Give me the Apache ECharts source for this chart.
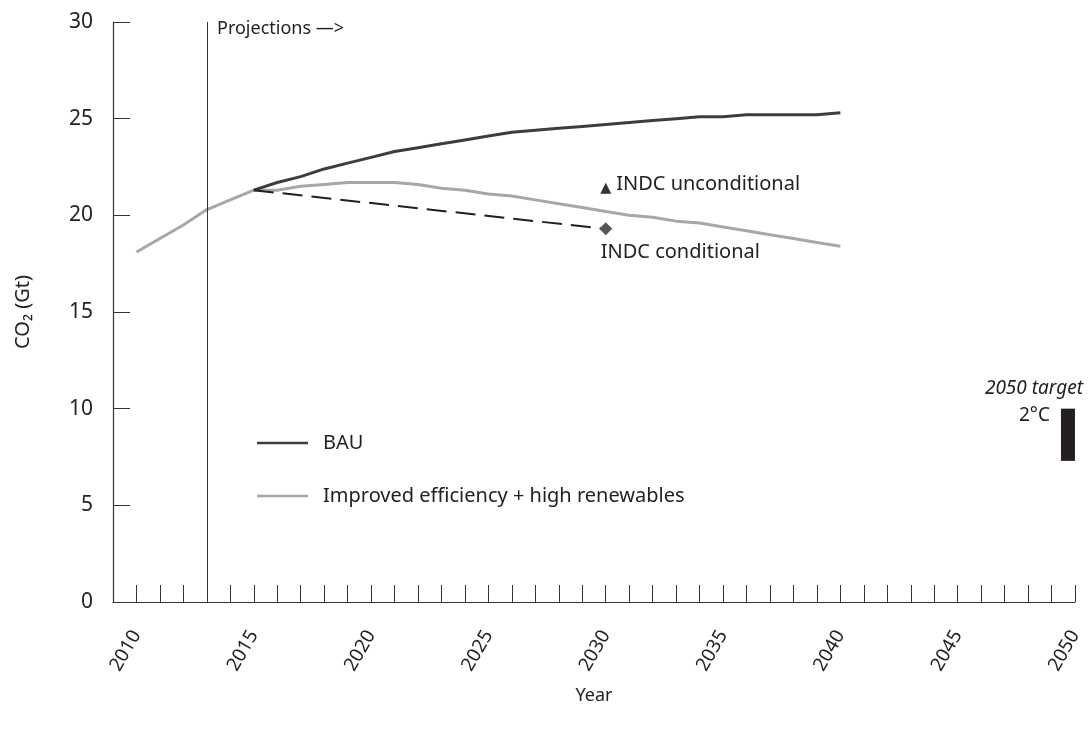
<!DOCTYPE html>
<html>
<head>
<meta charset="utf-8">
<script src="https://cdn.jsdelivr.net/npm/echarts@6/dist/echarts.min.js"></script>
<style>
  html, body { margin: 0; padding: 0; background: #fff; }
  #main { width: 1088px; height: 731px; }
</style>
</head>
<body>
<div id="main"></div>
<script>
// historical emissions, Gt CO2
var histYears = [2010, 2011, 2012, 2013, 2014, 2015];
var histValues = [18.1, 18.8, 19.5, 20.3, 20.8, 21.3];

// projections 2015-2040
var projYears = [2015, 2016, 2017, 2018, 2019, 2020, 2021, 2022, 2023, 2024, 2025, 2026, 2027,
  2028, 2029, 2030, 2031, 2032, 2033, 2034, 2035, 2036, 2037, 2038, 2039, 2040];
var bauValues = [21.3, 21.7, 22.0, 22.4, 22.7, 23.0, 23.3, 23.5, 23.7, 23.9, 24.1, 24.3, 24.4,
  24.5, 24.6, 24.7, 24.8, 24.9, 25.0, 25.1, 25.1, 25.2, 25.2, 25.2, 25.2, 25.3];
var effValues = [21.3, 21.3, 21.5, 21.6, 21.7, 21.7, 21.7, 21.6, 21.4, 21.3, 21.1, 21.0, 20.8,
  20.6, 20.4, 20.2, 20.0, 19.9, 19.7, 19.6, 19.4, 19.2, 19.0, 18.8, 18.6, 18.4];

var condYears = [2015, 2030];
var condValues = [21.3, 19.3];
var uncondPoint = [2030, 21.4];
var targetYear = 2049.7;
var targetRange = [7.3, 10];
var projectionStart = 2013;

var zip = function (xs, ys) {
  return xs.map(function (x, i) { return [x, ys[i]]; });
};

var chart = echarts.init(document.getElementById("main"));
var font = "'Noto Sans', 'Open Sans', sans-serif";
var option = {
  animation: false,
  textStyle: { fontFamily: font },
  grid: { left: 113, right: 13, top: 22, bottom: 129 },
  legend: {
    data: ["BAU", "Improved efficiency + high renewables"],
    orient: "vertical",
    left: 252,
    top: 426,
    itemWidth: 51,
    itemHeight: 14,
    itemGap: 29,
    icon: "path://M0,0 L51,0 L51,2.6 L0,2.6 Z",
    textStyle: { fontSize: 20, lineHeight: 24, color: "#222", fontFamily: font, padding: [0, 0, 0, 10] }
  },
  xAxis: {
    type: "value",
    min: 2009,
    max: 2050,
    interval: 1,
    name: "Year",
    nameLocation: "middle",
    nameGap: 85,
    nameTextStyle: { fontSize: 18, color: "#222" },
    splitLine: { show: false },
    axisLine: { lineStyle: { color: "#333", width: 1.2 } },
    axisTick: { inside: true, length: 17, lineStyle: { color: "#333" } },
    axisLabel: {
      rotate: 60,
      margin: 30,
      fontSize: 19,
      color: "#222",
      formatter: function (v) { return v % 5 === 0 ? String(v) : ""; }
    }
  },
  yAxis: {
    type: "value",
    min: 0,
    max: 30,
    interval: 5,
    name: "CO\u2082 (Gt)",
    nameLocation: "middle",
    nameGap: 80,
    nameTextStyle: { fontSize: 20, color: "#222" },
    splitLine: { show: false },
    axisLine: { show: true, lineStyle: { color: "#333", width: 1.2 } },
    axisTick: { inside: true, length: 17, lineStyle: { color: "#333" } },
    axisLabel: { fontSize: 21, color: "#222", margin: 20 }
  },
  series: [
    {
      name: "History",
      type: "line",
      data: zip(histYears, histValues),
      symbol: "none",
      lineStyle: { color: "#a7a7a9", width: 3 },
      itemStyle: { color: "#a7a7a9" },
      markLine: {
        silent: true,
        symbol: "none",
        label: { show: false },
        lineStyle: { color: "#333", width: 1, type: "solid" },
        data: [{ xAxis: projectionStart }]
      }
    },
    {
      name: "Improved efficiency + high renewables",
      type: "line",
      data: zip(projYears, effValues),
      symbol: "none",
      lineStyle: { color: "#a7a7a9", width: 3 },
      itemStyle: { color: "#a7a7a9" }
    },
    {
      name: "BAU",
      type: "line",
      data: zip(projYears, bauValues),
      symbol: "none",
      lineStyle: { color: "#3d3d3f", width: 3 },
      itemStyle: { color: "#3d3d3f" }
    },
    {
      name: "INDC conditional",
      type: "line",
      data: zip(condYears, condValues),
      symbol: function (v, p) { return p.dataIndex === 1 ? "diamond" : "none"; },
      symbolSize: 13,
      showAllSymbol: true,
      lineStyle: { color: "#231f20", width: 2, type: [20, 9] },
      itemStyle: { color: "#555" },
      label: {
        show: true,
        formatter: function (p) { return p.dataIndex === 1 ? "INDC conditional" : ""; },
        position: "bottom",
        align: "left",
        offset: [-5, 2],
        fontSize: 20,
        color: "#222"
      }
    },
    {
      name: "INDC unconditional",
      type: "scatter",
      data: [uncondPoint],
      symbol: "triangle",
      symbolSize: 11,
      itemStyle: { color: "#333", opacity: 1 },
      label: {
        show: true,
        formatter: "INDC unconditional",
        position: "right",
        distance: 5,
        offset: [0, -4],
        fontSize: 20,
        color: "#222"
      }
    },
    {
      name: "2050 target",
      type: "line",
      data: [[targetYear, targetRange[0]], [targetYear, targetRange[1]]],
      symbol: "none",
      lineStyle: { color: "#231f20", width: 14, cap: "butt" }
    }
  ],
  graphic: [
    {
      type: "text",
      left: 217,
      top: 20,
      style: { text: "Projections \u2014>", fontSize: 18, fill: "#222", fontFamily: font }
    },
    {
      type: "text",
      right: 5,
      top: 379,
      style: { text: "2050 target", fontSize: 19, fontStyle: "italic", fill: "#222", fontFamily: font }
    },
    {
      type: "text",
      right: 38,
      top: 406,
      style: { text: "2\u00b0C", fontSize: 19, fill: "#222", fontFamily: font }
    }
  ]
};
chart.setOption(option);
</script>
</body>
</html>
